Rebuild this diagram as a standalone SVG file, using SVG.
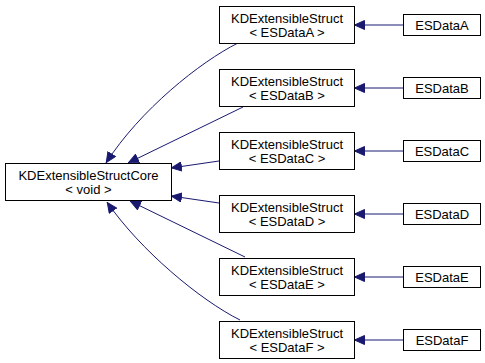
<svg xmlns="http://www.w3.org/2000/svg" width="485" height="363" viewBox="0 0 485 363">
  <style>
    .box { fill: #ffffff; stroke: #000000; stroke-width: 1; }
    .lbl { font-family: "Liberation Sans", Arial, Helvetica, sans-serif; font-size: 13px; fill: #000000; text-anchor: middle; }
    .edge { fill: none; stroke: #191970; stroke-width: 1; }
  </style>
  <defs>
    <marker id="arrow" viewBox="0 0 11 10" refX="11" refY="5" markerWidth="11" markerHeight="10" markerUnits="userSpaceOnUse" orient="auto">
      <path d="M0.5,0.5 L10.5,5 L0.5,9.5 Z" fill="#191970" stroke="#191970" stroke-width="1"/>
    </marker>
  </defs>

  <!-- inheritance connectors -->
  <g id="edges">
    <path class="edge" marker-end="url(#arrow)" d="M238,43 C200,62 140,110 106,163"/>
    <path class="edge" marker-end="url(#arrow)" d="M243,107 L128,163"/>
    <path class="edge" marker-end="url(#arrow)" d="M219,161 L171,168"/>
    <path class="edge" marker-end="url(#arrow)" d="M219,203 L171,196"/>
    <path class="edge" marker-end="url(#arrow)" d="M245,257 L130,201"/>
    <path class="edge" marker-end="url(#arrow)" d="M240,320 C200,300 140,250 107,202"/>
    <path class="edge" marker-end="url(#arrow)" d="M403,25 L354,25"/>
    <path class="edge" marker-end="url(#arrow)" d="M403,88 L354,88"/>
    <path class="edge" marker-end="url(#arrow)" d="M403,151 L354,151"/>
    <path class="edge" marker-end="url(#arrow)" d="M403,214 L354,214"/>
    <path class="edge" marker-end="url(#arrow)" d="M403,277 L354,277"/>
    <path class="edge" marker-end="url(#arrow)" d="M403,340 L354,340"/>
  </g>

  <g id="core">
    <rect class="box" x="5.5" y="163.5" width="166" height="37"/>
    <text class="lbl" x="88.5" y="179.5">KDExtensibleStructCore</text>
    <text class="lbl" x="88.5" y="193.5">&lt; void &gt;</text>
  </g>

  <g id="structA">
    <rect class="box" x="219.5" y="6.5" width="135" height="37"/>
    <text class="lbl" x="287" y="23">KDExtensibleStruct</text>
    <text class="lbl" x="287" y="37">&lt; ESDataA &gt;</text>
  </g>
  <g id="structB">
    <rect class="box" x="219.5" y="69.5" width="135" height="37"/>
    <text class="lbl" x="287" y="86">KDExtensibleStruct</text>
    <text class="lbl" x="287" y="100">&lt; ESDataB &gt;</text>
  </g>
  <g id="structC">
    <rect class="box" x="219.5" y="132.5" width="135" height="37"/>
    <text class="lbl" x="287" y="149">KDExtensibleStruct</text>
    <text class="lbl" x="287" y="163">&lt; ESDataC &gt;</text>
  </g>
  <g id="structD">
    <rect class="box" x="219.5" y="195.5" width="135" height="37"/>
    <text class="lbl" x="287" y="212">KDExtensibleStruct</text>
    <text class="lbl" x="287" y="226">&lt; ESDataD &gt;</text>
  </g>
  <g id="structE">
    <rect class="box" x="219.5" y="258.5" width="135" height="37"/>
    <text class="lbl" x="287" y="275">KDExtensibleStruct</text>
    <text class="lbl" x="287" y="289">&lt; ESDataE &gt;</text>
  </g>
  <g id="structF">
    <rect class="box" x="219.5" y="321.5" width="135" height="37"/>
    <text class="lbl" x="287" y="338">KDExtensibleStruct</text>
    <text class="lbl" x="287" y="352">&lt; ESDataF &gt;</text>
  </g>

  <g id="ESDataA">
    <rect class="box" x="403.5" y="14.5" width="77" height="21"/>
    <text class="lbl" x="442" y="29.5">ESDataA</text>
  </g>
  <g id="ESDataB">
    <rect class="box" x="403.5" y="77.5" width="77" height="21"/>
    <text class="lbl" x="442" y="92.5">ESDataB</text>
  </g>
  <g id="ESDataC">
    <rect class="box" x="403.5" y="140.5" width="77" height="21"/>
    <text class="lbl" x="442" y="155.5">ESDataC</text>
  </g>
  <g id="ESDataD">
    <rect class="box" x="403.5" y="203.5" width="77" height="21"/>
    <text class="lbl" x="442" y="218.5">ESDataD</text>
  </g>
  <g id="ESDataE">
    <rect class="box" x="403.5" y="266.5" width="77" height="21"/>
    <text class="lbl" x="442" y="281.5">ESDataE</text>
  </g>
  <g id="ESDataF">
    <rect class="box" x="403.5" y="329.5" width="77" height="21"/>
    <text class="lbl" x="442" y="344.5">ESDataF</text>
  </g>
</svg>
